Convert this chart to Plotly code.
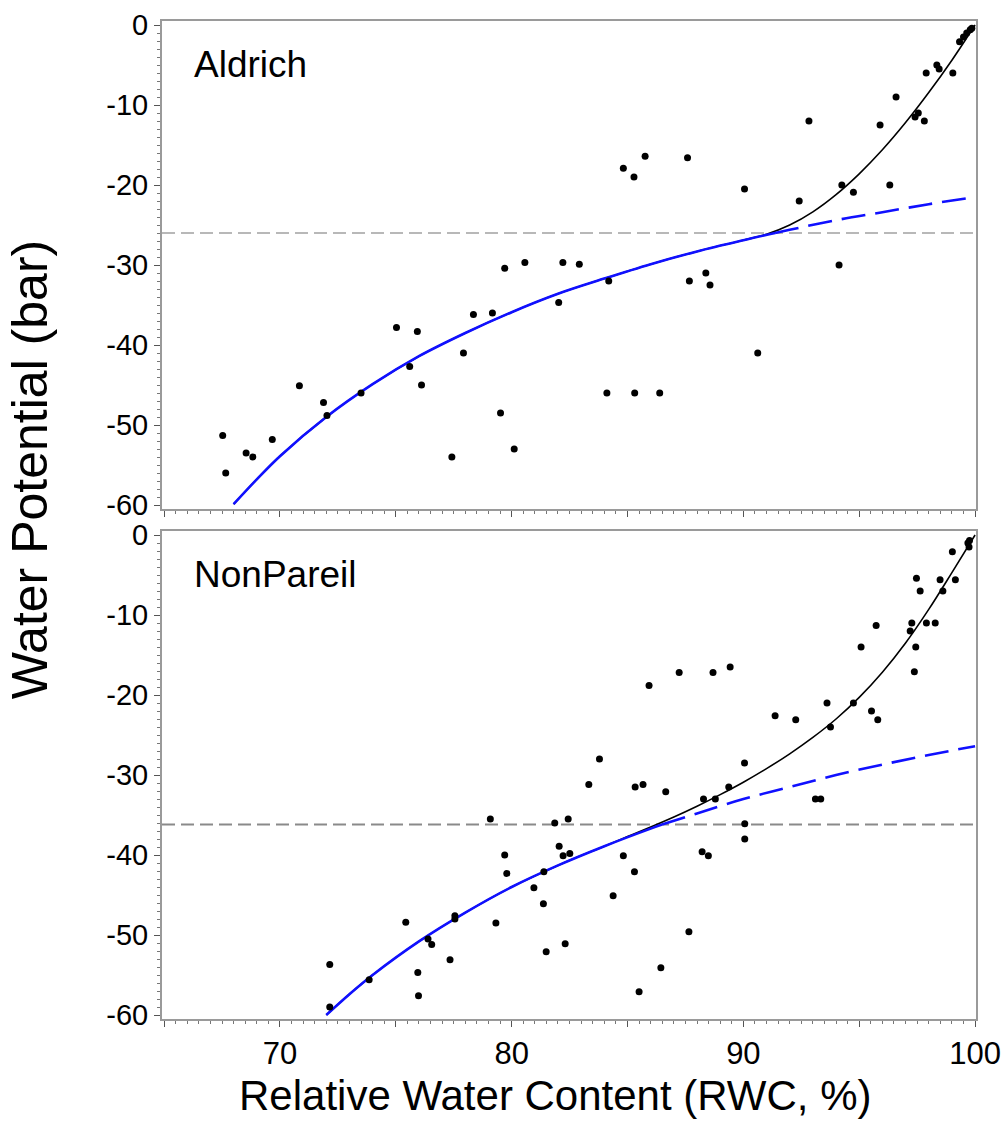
import plotly.graph_objects as go

# ---------------- data ----------------
ald_rwc = [67.53, 67.66, 68.54, 68.83, 69.67, 70.84, 71.88, 72.03, 73.50, 75.03, 75.60, 75.93,
           76.11, 77.42, 77.92, 78.35, 79.17, 79.52, 79.70, 80.11, 80.57, 82.03, 82.21, 82.92,
           84.19, 84.11, 85.31, 86.39, 87.67, 88.38, 88.56, 90.62, 94.13,
           84.82, 85.28, 85.76, 87.59, 90.05, 92.41, 92.83, 94.25, 94.75, 95.90, 96.32, 96.59,
           97.41, 97.55, 97.81, 97.89, 98.35, 98.45, 99.04, 99.33, 99.50, 99.64, 99.79, 99.86]
ald_psi = [-51.3, -56.0, -53.5, -54.0, -51.8, -45.1, -47.2, -48.8, -46.0, -37.8, -42.7, -38.3,
           -45.0, -54.0, -41.0, -36.2, -36.0, -48.5, -30.4, -53.0, -29.7, -34.7, -29.7, -29.9,
           -32.0, -46.0, -46.0, -46.0, -32.0, -31.0, -32.5, -41.0, -30.0,
           -17.9, -19.0, -16.4, -16.6, -20.5, -22.0, -12.0, -20.0, -20.9, -12.5, -20.0, -9.0,
           -11.5, -11.0, -12.0, -6.0, -5.0, -5.5, -6.0, -2.1, -1.5, -1.0, -0.6, -0.4]

non_rwc = [72.15, 72.15, 73.85, 75.43, 75.95, 75.98, 76.39, 76.55, 77.34, 77.55, 77.55, 79.08,
           79.32, 79.70, 79.79, 80.96, 81.37, 81.39, 81.49, 81.86, 82.05, 82.22, 82.31, 82.44,
           82.51, 83.33, 84.38, 84.82, 85.30, 85.33, 85.50, 85.67, 86.44, 86.65, 87.65, 88.22,
           88.28, 88.49, 88.79, 89.37, 90.06, 90.06, 93.11, 93.34,
           83.79, 85.93, 87.23, 88.69, 89.43, 90.05, 91.37, 92.26, 93.61, 93.76, 94.75, 95.08,
           95.53, 95.73, 95.80, 97.20, 97.27, 97.38, 97.44, 97.47, 97.63, 97.90, 98.28, 98.49,
           98.61, 99.02, 99.15, 99.69, 99.74, 99.76]
non_psi = [-53.7, -59.0, -55.6, -48.4, -54.7, -57.6, -50.5, -51.2, -53.1, -47.6, -48.0, -35.5,
           -48.5, -40.0, -42.3, -44.1, -46.1, -42.1, -52.1, -36.0, -38.9, -40.1, -51.1, -35.5,
           -39.8, -31.2, -45.1, -40.1, -42.1, -31.5, -57.1, -31.2, -54.1, -32.1, -49.6, -39.6,
           -33.0, -40.1, -33.0, -31.5, -36.1, -38.0, -33.0, -33.0,
           -28.0, -18.8, -17.2, -17.2, -16.5, -28.5, -22.6, -23.1, -21.0, -24.0, -21.0, -14.0,
           -22.0, -11.3, -23.1, -12.0, -11.0, -17.1, -14.0, -5.4, -7.0, -11.0, -11.0, -5.6,
           -7.0, -2.1, -5.6, -1.0, -1.5, -0.7]

# fitted curves
ald_blue_solid_x = [68.0, 69.0, 70.0, 72.0, 74.0, 76.0, 78.0, 80.0, 82.0, 84.0, 86.0, 88.0, 90.0, 91.37]
ald_blue_solid_y = [-59.9, -56.8, -53.9, -49.0, -44.9, -41.4, -38.5, -35.9, -33.6, -31.7, -29.9,
                    -28.3, -26.9, -26.0]
ald_blue_dash_x = [91.37, 92.0, 94.0, 96.0, 98.0, 100.0]
ald_blue_dash_y = [-26.0, -25.6, -24.4, -23.4, -22.4, -21.5]
ald_black_x = [68.0, 69.0, 70.0, 72.0, 74.0, 76.0, 78.0, 80.0, 82.0, 84.0, 86.0, 88.0, 90.0, 91.0,
               92.0, 93.0, 94.0, 95.0, 96.0, 97.0, 98.0, 99.0, 100.0]
ald_black_y = [-59.9, -56.8, -53.9, -49.0, -44.9, -41.4, -38.5, -35.9, -33.6, -31.7, -29.9,
               -28.3, -26.9, -26.15, -25.0, -23.35, -21.2, -18.6, -15.6, -12.2, -8.45, -4.4, 0.0]

non_blue_solid_x = [72.0, 73.0, 74.0, 76.0, 78.0, 80.0, 82.0, 84.0, 86.0, 86.49]
non_blue_solid_y = [-60.0, -57.4, -55.0, -50.8, -47.2, -44.0, -41.3, -38.9, -36.7, -36.2]
non_blue_dash_x = [86.49, 88.0, 90.0, 92.0, 94.0, 96.0, 98.0, 100.0]
non_blue_dash_y = [-36.2, -34.8, -33.0, -31.5, -30.0, -28.7, -27.5, -26.4]
non_black_x = [72.0, 73.0, 74.0, 76.0, 78.0, 80.0, 82.0, 84.0, 85.0, 86.0, 87.0, 88.0, 89.0, 90.0,
               91.0, 92.0, 93.0, 94.0, 95.0, 96.0, 97.0, 98.0, 99.0, 100.0]
non_black_y = [-60.0, -57.4, -55.0, -50.8, -47.2, -44.0, -41.3, -38.9, -37.7, -36.5, -35.25,
               -33.9, -32.45, -30.9, -29.2, -27.35, -25.3, -23.0, -20.3, -17.15, -13.5, -9.3,
               -4.7, 0.0]

ald_ref = -26.0
non_ref = -36.2

panel_names = ["Aldrich", "NonPareil"]
x_tickvals = [65, 70, 75, 80, 85, 90, 95, 100]
x_ticktext = ["", "70", "", "80", "", "90", "", "100"]
y_tickvals = [0, -10, -20, -30, -40, -50, -60]
y_ticktext = ["0", "-10", "-20", "-30", "-40", "-50", "-60"]

# ---------------- figure ----------------
FONT = "Liberation Sans, Arial, sans-serif"
BLUE = "#1010ff"
XR = [64.91, 100.04]
YR = [-60.5, 0.5]
fig = go.Figure()

def add_panel(xa, ya, rx, ry, bx, by, sx, sy, dx, dy, ref, refcol):
    fig.add_trace(go.Scatter(x=XR, y=[ref, ref], mode="lines", xaxis=xa, yaxis=ya,
                             line=dict(color=refcol, width=2, dash="13px,6px"), hoverinfo="skip"))
    fig.add_trace(go.Scatter(x=bx, y=by, mode="lines", xaxis=xa, yaxis=ya, line_shape="spline",
                             line=dict(color="black", width=1.6)))
    fig.add_trace(go.Scatter(x=sx, y=sy, mode="lines", xaxis=xa, yaxis=ya, line_shape="spline",
                             line=dict(color=BLUE, width=2.6)))
    fig.add_trace(go.Scatter(x=dx, y=dy, mode="lines", xaxis=xa, yaxis=ya, line_shape="spline",
                             line=dict(color=BLUE, width=2.6, dash="24px,10px")))
    fig.add_trace(go.Scatter(x=rx, y=ry, mode="markers", xaxis=xa, yaxis=ya,
                             marker=dict(color="black", size=7)))

add_panel("x", "y", ald_rwc, ald_psi, ald_black_x, ald_black_y, ald_blue_solid_x, ald_blue_solid_y,
          ald_blue_dash_x, ald_blue_dash_y, ald_ref, "#b8b8b8")
add_panel("x2", "y2", non_rwc, non_psi, non_black_x, non_black_y, non_blue_solid_x, non_blue_solid_y,
          non_blue_dash_x, non_blue_dash_y, non_ref, "#8a8a8a")

H_PLOT = 998.0
top_dom = [(1019 - 509) / H_PLOT, 1.0]
bot_dom = [0.0, 488 / H_PLOT]

def xaxis_cfg(anchor, labels):
    return dict(domain=[0, 1], range=XR, anchor=anchor,
                tickvals=x_tickvals, ticktext=x_ticktext if labels else [""] * len(x_tickvals),
                ticks="outside", ticklen=6, tickwidth=1, tickcolor="#555555",
                minor=dict(dtick=0.5, tick0=65, ticks="outside", ticklen=3, tickcolor="#777777"),
                showline=True, linecolor="#9a9a9a", linewidth=2, mirror=True,
                showgrid=False, zeroline=False,
                tickfont=dict(family=FONT, size=31, color="black"))

def yaxis_cfg(anchor, dom):
    return dict(domain=dom, range=YR, anchor=anchor,
                tickvals=y_tickvals, ticktext=y_ticktext,
                ticks="outside", ticklen=6, tickwidth=1, tickcolor="#555555",
                minor=dict(dtick=1, tick0=0, ticks="outside", ticklen=3, tickcolor="#777777"),
                showline=True, linecolor="#9a9a9a", linewidth=2, mirror=True,
                showgrid=False, zeroline=False,
                tickfont=dict(family=FONT, size=29, color="black"))

fig.update_layout(
    width=1008, height=1128,
    margin=dict(l=162, r=32, t=21, b=109, autoexpand=False),
    paper_bgcolor="white", plot_bgcolor="white",
    showlegend=False,
    xaxis=xaxis_cfg("y", False),
    yaxis=yaxis_cfg("x", top_dom),
    xaxis2=xaxis_cfg("y2", True),
    yaxis2=yaxis_cfg("x2", bot_dom),
    annotations=[
        dict(text=panel_names[0], xref="x domain", yref="y domain", x=0.037, y=0.91,
             xanchor="left", yanchor="middle", showarrow=False,
             font=dict(family=FONT, size=37, color="black")),
        dict(text=panel_names[1], xref="x2 domain", yref="y2 domain", x=0.037, y=0.91,
             xanchor="left", yanchor="middle", showarrow=False,
             font=dict(family=FONT, size=37, color="black")),
        dict(text="Water Potential (bar)", xref="paper", yref="paper", x=-0.162, y=0.55,
             xanchor="center", yanchor="middle", textangle=-90, showarrow=False,
             font=dict(family=FONT, size=50, color="black")),
        dict(text="Relative Water Content (RWC, %)", xref="paper", yref="paper", x=0.483,
             y=(1019 - 1095) / H_PLOT,
             xanchor="center", yanchor="middle", showarrow=False,
             font=dict(family=FONT, size=42, color="black")),
    ],
)

fig.write_html("out.html", config={"displayModeBar": False},
               post_script="document.body.style.margin='0px';")
